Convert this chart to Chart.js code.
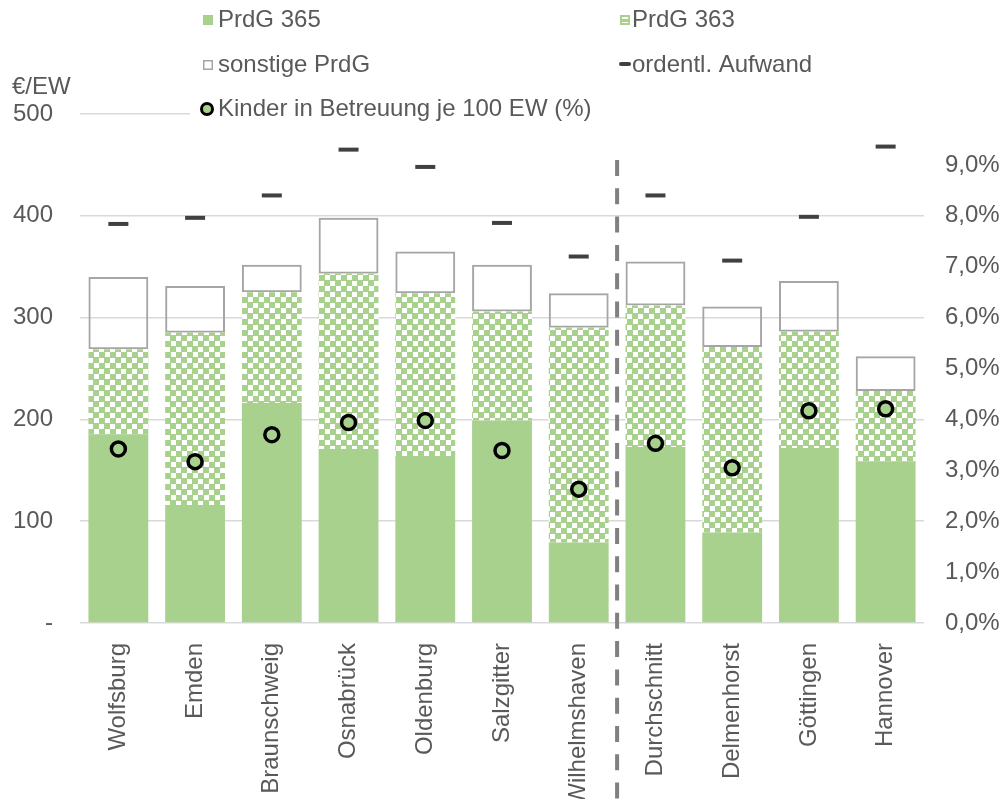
<!DOCTYPE html>
<html lang="de">
<head>
<meta charset="utf-8">
<title>Produktgruppen je Einwohner</title>
<script src="https://cdn.jsdelivr.net/npm/chart.js@4.4.1/dist/chart.umd.min.js"></script>
<style>
  html, body { margin: 0; padding: 0; background: #ffffff; }
  #wrap { position: relative; width: 1006px; height: 799px; }
</style>
</head>
<body>
<div id="wrap"><canvas id="chart"></canvas></div>
<script>
// Städte (Durchschnitt als Trenner zwischen den Gruppen)
const categories = ['Wolfsburg', 'Emden', 'Braunschweig', 'Osnabrück', 'Oldenburg', 'Salzgitter',
  'Wilhelmshaven', 'Durchschnitt', 'Delmenhorst', 'Göttingen', 'Hannover'];

// Zuschussbedarf in €/EW, gestapelt
const prdg365 = [185, 116, 216, 171, 164, 199, 79, 173, 89, 172, 159];
const prdg363 = [84, 169, 109, 172, 160, 107, 211, 139, 182, 114, 69];
const sonstigePrdg = [71, 46, 27, 55, 41, 46, 34, 43, 40, 50, 34];

// ordentlicher Aufwand in €/EW
const ordentlAufwand = [392, 398, 420, 465, 448, 393, 360, 420, 356, 399, 468];

// Kinder in Betreuung je 100 EW (%)
const kinderQuote = [3.42, 3.17, 3.70, 3.94, 3.98, 3.39, 2.63, 3.53, 3.05, 4.17, 4.21];

// Achsenbeschriftungen
const euroTickLabels = ['-', '100', '200', '300', '400', '500'];
const percentTickLabels = ['0,0%', '1,0%', '2,0%', '3,0%', '4,0%', '5,0%', '6,0%', '7,0%', '8,0%', '9,0%'];

const GREEN = '#a9d18e';
const TEXT = '#595959';
const FONT = "'Liberation Sans', Arial, sans-serif";

// Schachbrettmuster für PrdG 363
function makeChecker() {
  const c = document.createElement('canvas');
  c.width = 11; c.height = 11;
  const g = c.getContext('2d');
  g.fillStyle = '#ffffff';
  g.fillRect(0, 0, 11, 11);
  g.fillStyle = GREEN;
  g.fillRect(0, 0, 6, 6);
  g.fillRect(5, 5, 6, 6);
  return g.createPattern(c, 'repeat');
}
const checker = makeChecker();

// Trennlinie zwischen Wilhelmshaven und Durchschnitt
const dividerPlugin = {
  id: 'divider',
  afterDraw(chart) {
    const { ctx } = chart;
    const x = chart.scales.x.getPixelForValue(6.5);
    ctx.save();
    ctx.strokeStyle = '#808080';
    ctx.lineWidth = 4;
    ctx.setLineDash([16, 12.3]);
    ctx.beginPath();
    ctx.moveTo(x, 160);
    ctx.lineTo(x, chart.height);
    ctx.stroke();
    ctx.restore();
  }
};

// Einheit über der linken Achse
const unitPlugin = {
  id: 'unit',
  afterDraw(chart) {
    const { ctx } = chart;
    ctx.save();
    ctx.fillStyle = TEXT;
    ctx.font = '24px ' + FONT;
    ctx.textAlign = 'left';
    ctx.textBaseline = 'middle';
    ctx.fillText('€/EW', 12, 87);
    ctx.restore();
  }
};

// Legende mit weißem Hintergrund im oberen Bereich
const legendPlugin = {
  id: 'customLegend',
  afterDraw(chart) {
    const { ctx } = chart;
    ctx.save();
    ctx.fillStyle = '#ffffff';
    ctx.fillRect(190, 0, chart.width - 190, 127);
    ctx.font = '24px ' + FONT;
    ctx.textAlign = 'left';
    ctx.textBaseline = 'middle';

    const col1 = 203, col2 = 620;
    const rows = [20, 65, 109];

    // PrdG 365
    ctx.fillStyle = GREEN;
    ctx.fillRect(col1, rows[0] - 5, 10, 10);
    // PrdG 363
    ctx.fillStyle = '#ffffff';
    ctx.fillRect(col2, rows[0] - 5, 10, 10);
    ctx.strokeStyle = GREEN;
    ctx.lineWidth = 2;
    ctx.strokeRect(col2 + 1, rows[0] - 4, 8, 8);
    ctx.fillStyle = GREEN;
    ctx.fillRect(col2 + 2, rows[0] - 1, 6, 3);
    // sonstige PrdG
    ctx.fillStyle = '#ffffff';
    ctx.fillRect(col1, rows[1] - 5, 10, 10);
    ctx.strokeStyle = '#a5a5a5';
    ctx.lineWidth = 1.5;
    ctx.strokeRect(col1 + 0.75, rows[1] - 4.25, 8.5, 8.5);
    // ordentl. Aufwand
    ctx.strokeStyle = '#404040';
    ctx.lineWidth = 4;
    ctx.lineCap = 'round';
    ctx.beginPath();
    ctx.moveTo(col2 + 1, rows[1] - 1);
    ctx.lineTo(col2 + 9, rows[1] - 1);
    ctx.stroke();
    // Kinder in Betreuung
    ctx.beginPath();
    ctx.arc(col1 + 4, rows[2], 5.5, 0, Math.PI * 2);
    ctx.fillStyle = GREEN;
    ctx.fill();
    ctx.lineWidth = 3;
    ctx.strokeStyle = '#000000';
    ctx.stroke();

    ctx.fillStyle = TEXT;
    ctx.fillText('PrdG 365', col1 + 15, rows[0]);
    ctx.fillText('PrdG 363', col2 + 12, rows[0]);
    ctx.fillText('sonstige PrdG', col1 + 15, rows[1]);
    ctx.fillText('ordentl. Aufwand', col2 + 12, rows[1]);
    ctx.fillText('Kinder in Betreuung je 100 EW (%)', col1 + 15, rows[2]);
    ctx.restore();
  }
};

const barCommon = {
  type: 'bar',
  yAxisID: 'y',
  stack: 'prdg',
  order: 2,
  barPercentage: 0.78,
  categoryPercentage: 1.0
};

new Chart(document.getElementById('chart'), {
  data: {
    labels: categories,
    datasets: [
      {
        type: 'line',
        label: 'Kinder in Betreuung je 100 EW (%)',
        data: kinderQuote,
        yAxisID: 'y1',
        order: 0,
        showLine: false,
        pointStyle: 'circle',
        pointRadius: 7,
        pointBorderWidth: 3.5,
        pointBorderColor: '#000000',
        pointBackgroundColor: GREEN
      },
      {
        type: 'line',
        label: 'ordentl. Aufwand',
        data: ordentlAufwand,
        yAxisID: 'y',
        stack: 'aufwand',
        order: 1,
        showLine: false,
        pointStyle: 'line',
        pointRadius: 10,
        pointBorderWidth: 4,
        pointBorderColor: '#404040',
        borderColor: '#404040'
      },
      Object.assign({}, barCommon, {
        label: 'PrdG 365',
        data: prdg365,
        backgroundColor: GREEN,
        borderWidth: 0
      }),
      Object.assign({}, barCommon, {
        label: 'PrdG 363',
        data: prdg363,
        backgroundColor: checker,
        borderWidth: 0
      }),
      Object.assign({}, barCommon, {
        label: 'sonstige PrdG',
        data: sonstigePrdg,
        backgroundColor: 'rgba(255,255,255,0)',
        borderColor: '#a5a5a5',
        borderWidth: 2,
        borderSkipped: false
      })
    ]
  },
  options: {
    responsive: true,
    maintainAspectRatio: false,
    animation: false,
    events: [],
    layout: { padding: { top: 114, left: 0, right: 0, bottom: 0 } },
    plugins: {
      legend: { display: false },
      tooltip: { enabled: false },
      title: { display: false }
    },
    scales: {
      x: {
        stacked: true,
        grid: { display: false, drawTicks: false },
        border: { display: false },
        afterFit(scale) { scale.height = 176; },
        ticks: {
          autoSkip: false,
          maxRotation: 90,
          minRotation: 90,
          padding: 20,
          color: TEXT,
          font: { family: FONT, size: 24 }
        }
      },
      y: {
        position: 'left',
        stacked: true,
        min: 0,
        max: 500,
        afterFit(scale) { scale.width = 80; },
        grid: { color: '#d9d9d9', lineWidth: 1.5, drawTicks: false },
        border: { display: false },
        ticks: {
          stepSize: 100,
          padding: 27,
          color: TEXT,
          font: { family: FONT, size: 24 },
          callback: (v) => euroTickLabels[v / 100]
        }
      },
      y1: {
        position: 'right',
        min: 0,
        max: 10,
        afterFit(scale) { scale.width = 82; },
        grid: { display: false, drawTicks: false },
        border: { display: false },
        ticks: {
          stepSize: 1,
          padding: 21,
          color: TEXT,
          font: { family: FONT, size: 24 },
          callback: (v) => percentTickLabels[v] ?? ''
        }
      }
    }
  },
  plugins: [dividerPlugin, unitPlugin, legendPlugin]
});
</script>
</body>
</html>
